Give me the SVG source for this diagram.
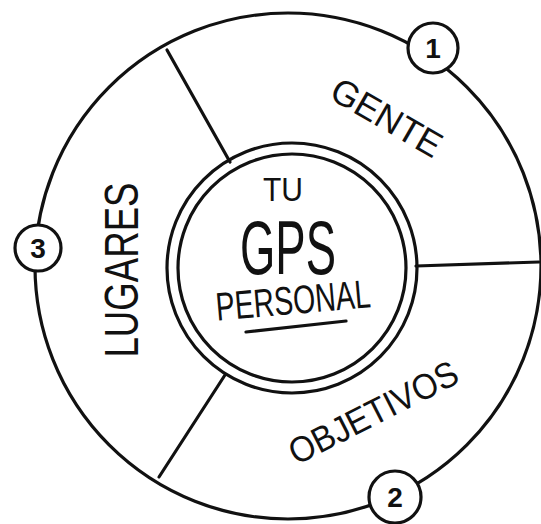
<svg xmlns="http://www.w3.org/2000/svg" width="541" height="524" viewBox="0 0 541 524">
<style>
.ln{fill:none;stroke:#111;stroke-width:3.2;stroke-linecap:round;stroke-linejoin:round}
.nd{fill:#fff;stroke:#111;stroke-width:3.2}
.t{font-family:"Liberation Sans","DejaVu Sans",sans-serif;fill:#111;text-anchor:middle}
.num{font-family:"Liberation Sans","DejaVu Sans",sans-serif;font-size:28px;font-weight:bold;fill:#111;text-anchor:middle}
</style>
<rect width="541" height="524" fill="#fff"/>
<g id="connectors">
<circle class="ln" cx="288" cy="266" r="253"/>
<line class="ln" x1="167" y1="50" x2="230" y2="162"/>
<line class="ln" x1="416" y1="266" x2="539" y2="262"/>
<line class="ln" x1="225" y1="375" x2="159" y2="477"/>
</g>
<g id="center">
<circle class="ln" cx="292" cy="268" r="125"/>
<circle class="ln" cx="292" cy="268" r="114"/>
<text class="t" x="283" y="201" font-size="34" textLength="40" lengthAdjust="spacingAndGlyphs">TU</text>
<text class="t" x="288" y="274" font-size="76" textLength="96" lengthAdjust="spacingAndGlyphs">GPS</text>
<text class="t" x="293" y="314" font-size="40" textLength="155" lengthAdjust="spacingAndGlyphs" transform="rotate(-5 293 300)">PERSONAL</text>
<line class="ln" x1="246" y1="332" x2="346" y2="321"/>
</g>
<g id="gente">
<text class="t" x="387" y="130" font-size="36" textLength="122" lengthAdjust="spacingAndGlyphs" transform="rotate(30 387 117)">GENTE</text>
</g>
<g id="objetivos">
<text class="t" x="373" y="425" font-size="36" textLength="185" lengthAdjust="spacingAndGlyphs" transform="rotate(-27 373 412)">OBJETIVOS</text>
</g>
<g id="lugares">
<text class="t" x="121" y="287" font-size="48" textLength="175" lengthAdjust="spacingAndGlyphs" transform="rotate(-90 121 270)">LUGARES</text>
</g>
<g id="node1">
<circle class="nd" cx="433" cy="48" r="25"/>
<text class="num" x="433" y="58">1</text>
</g>
<g id="node2">
<circle class="nd" cx="395" cy="497" r="26"/>
<text class="num" x="395" y="507">2</text>
</g>
<g id="node3">
<circle class="nd" cx="38" cy="248" r="23"/>
<text class="num" x="38" y="258">3</text>
</g>
</svg>
